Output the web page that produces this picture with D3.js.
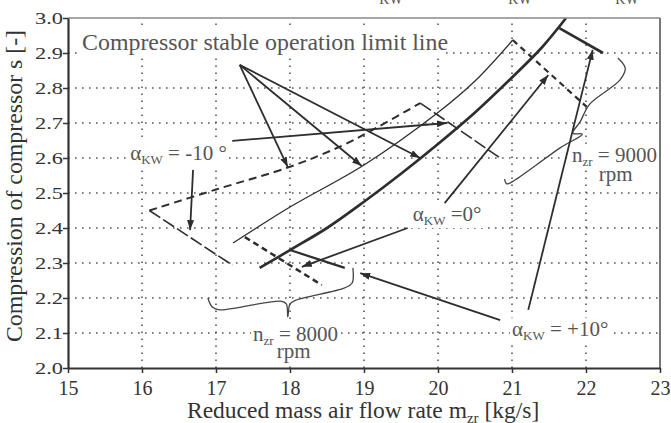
<!DOCTYPE html>
<html>
<head>
<meta charset="utf-8">
<script src="https://cdn.jsdelivr.net/npm/d3@7"></script>
<style>
  body { margin: 0; background: #fff; }
  svg { display: block; font-family: "Liberation Serif", "Times New Roman", Times, serif; }
</style>
</head>
<body>
<div id="root"></div>
<script>
// axis ticks
const xTicks = [15, 16, 17, 18, 19, 20, 21, 22, 23];
const yTicks = [2.0, 2.1, 2.2, 2.3, 2.4, 2.5, 2.6, 2.7, 2.8, 2.9, 3.0];

// compressor stable operation limit lines, [mass flow, compression]
const limitMinus10 = [[16.1, 2.45], [17.0, 2.51], [18.0, 2.575], [18.7, 2.635], [19.2, 2.69], [19.76, 2.757]];
const limitZero = [[17.23, 2.357], [18.0, 2.46], [19.0, 2.58], [20.0, 2.73], [20.5, 2.82], [21.01, 2.937]];
const limitPlus10 = [[17.59, 2.286], [18.0, 2.337], [18.5, 2.40], [19.0, 2.475], [19.5, 2.555], [20.0, 2.64],
  [20.5, 2.73], [21.0, 2.83], [21.4, 2.915], [21.73, 3.0]];

// constant speed lines
const n8000Minus10 = [[16.1, 2.45], [17.22, 2.294]];
const n8000Zero = [[17.39, 2.374], [18.43, 2.237]];
const n8000Plus10 = [[18.0, 2.337], [18.74, 2.286]];
const n9000Minus10 = [[19.76, 2.757], [20.84, 2.6]];
const n9000Zero = [[21.01, 2.937], [22.01, 2.746]];
const n9000Plus10 = [[21.64, 2.971], [22.23, 2.9]];

// annotation arrows, [from, to]
const arrowLines = [
  [[17.32, 2.866], [17.97, 2.574]],
  [[17.32, 2.866], [18.97, 2.577]],
  [[17.32, 2.866], [19.76, 2.600]],
  [[17.22, 2.649], [20.12, 2.700]],
  [[16.69, 2.566], [16.65, 2.394]],
  [[20.09, 2.471], [21.49, 2.837]],
  [[19.59, 2.400], [18.16, 2.289]],
  [[20.84, 2.137], [18.95, 2.271]],
  [[21.22, 2.166], [22.09, 2.909]],
];

// curly braces grouping the speed lines
const brace8000 = [[16.89, 2.200], [16.95, 2.174], [17.05, 2.166], [17.87, 2.191], [17.95, 2.183], [17.97, 2.146],
  [18.0, 2.183], [18.08, 2.194], [18.74, 2.229], [18.84, 2.243], [18.85, 2.286]];
const brace9000 = [[22.43, 2.886], [22.53, 2.857], [22.46, 2.823], [22.05, 2.754], [21.92, 2.703], [21.82, 2.671],
  [21.95, 2.668], [21.65, 2.629], [21.04, 2.537], [20.93, 2.526], [20.9, 2.540]];

const width = 671;
const height = 423;
const plot = { left: 68, right: 660, top: 18, bottom: 368 };
const serif = '"Liberation Serif", "Times New Roman", Times, serif';

const x = d3.scaleLinear().domain([15, 23]).range([plot.left, plot.right]);
const y = d3.scaleLinear().domain([2.0, 3.0]).range([plot.bottom, plot.top]);

const svg = d3.select('#root')
  .append('svg')
  .attr('width', width)
  .attr('height', height)
  .attr('font-family', serif);

const defs = svg.append('defs');
defs.append('marker')
  .attr('id', 'arrow')
  .attr('viewBox', '0 0 10 7')
  .attr('refX', 10)
  .attr('refY', 3.5)
  .attr('markerWidth', 10)
  .attr('markerHeight', 7)
  .attr('markerUnits', 'userSpaceOnUse')
  .attr('orient', 'auto')
  .append('path')
  .attr('d', 'M0,0 L10,3.5 L0,7 z')
  .attr('fill', '#2e2e2e');

const gridG = svg.append('g');
const bgG = svg.append('g');
const lineG = svg.append('g');
const textG = svg.append('g');
const axisG = svg.append('g');

// dotted grid
gridG.selectAll('.vgrid')
  .data(xTicks.slice(1, -1))
  .join('line')
  .attr('x1', d => x(d)).attr('x2', d => x(d))
  .attr('y1', y(2.0)).attr('y2', y(3.0));
gridG.selectAll('.hgrid')
  .data(yTicks.slice(1, -1))
  .join('line')
  .attr('x1', x(15)).attr('x2', x(23))
  .attr('y1', d => y(d)).attr('y2', d => y(d));
gridG.selectAll('line')
  .attr('stroke', '#555')
  .attr('stroke-width', 1.6)
  .attr('stroke-dasharray', '1.6 5.4');

// frame top and right
axisG.append('line')
  .attr('x1', plot.left).attr('x2', plot.right)
  .attr('y1', plot.top).attr('y2', plot.top)
  .attr('stroke', '#888').attr('stroke-width', 1.5);
axisG.append('line')
  .attr('x1', plot.right).attr('x2', plot.right)
  .attr('y1', plot.top).attr('y2', plot.bottom)
  .attr('stroke', '#777').attr('stroke-width', 2);

// axes
const yAxis = axisG.append('g')
  .attr('transform', `translate(${plot.left},0)`)
  .call(d3.axisLeft(y).tickValues(yTicks).tickSize(5).tickSizeOuter(0).tickPadding(0)
    .tickFormat(d3.format('.1f')));
const xAxis = axisG.append('g')
  .attr('transform', `translate(0,${plot.bottom})`)
  .call(d3.axisBottom(x).tickValues(xTicks).tickSize(5).tickSizeOuter(0).tickPadding(8)
    .tickFormat(d3.format('d')));
[yAxis, xAxis].forEach(a => {
  a.attr('font-family', serif);
  a.select('.domain').attr('stroke', '#333').attr('stroke-width', 2.2);
  a.selectAll('.tick line').attr('stroke', '#333').attr('stroke-width', 1.5);
  a.selectAll('.tick text').attr('fill', '#333');
});
yAxis.selectAll('.tick text').attr('font-size', 17)
  .attr('textLength', 28).attr('lengthAdjust', 'spacingAndGlyphs');
xAxis.selectAll('.tick text').attr('font-size', 20);

// axis titles (the subscript of m runs off the bottom edge, as in the source)
const xTitle = axisG.append('text')
  .attr('x', 187)
  .attr('y', 418)
  .attr('font-size', 23.5)
  .attr('fill', '#333');
xTitle.append('tspan').text('Reduced mass air flow rate m');
xTitle.append('tspan').attr('font-size', 15).attr('dy', 5).text('zr');
xTitle.append('tspan').attr('dy', -5).text(' [kg/s]');

axisG.append('text')
  .attr('transform', `translate(22,${(plot.top + plot.bottom) / 2 - 7}) rotate(-90)`)
  .attr('text-anchor', 'middle')
  .attr('font-size', 23.5)
  .attr('fill', '#333')
  .attr('textLength', 312)
  .attr('lengthAdjust', 'spacingAndGlyphs')
  .text('Compression of compressor s [-]');

// cut-off subscripts from the line of text above the figure
axisG.selectAll('.cut')
  .data([391, 520, 627])
  .join('text')
  .attr('x', d => d)
  .attr('y', 4)
  .attr('text-anchor', 'middle')
  .attr('font-size', 14)
  .attr('fill', '#555')
  .text('KW');

// lines
const straight = d3.line().x(d => x(d[0])).y(d => y(d[1]));
const smooth = d3.line().x(d => x(d[0])).y(d => y(d[1])).curve(d3.curveCatmullRom.alpha(0.5));

const series = [
  { data: limitMinus10, curve: smooth, w: 2, dash: '8 5' },
  { data: limitZero, curve: smooth, w: 1.3, dash: null },
  { data: limitPlus10, curve: smooth, w: 2.7, dash: null },
  { data: n8000Minus10, curve: straight, w: 1.6, dash: '13 3.5' },
  { data: n8000Zero, curve: straight, w: 2.5, dash: '6 4' },
  { data: n8000Plus10, curve: straight, w: 2.2, dash: null },
  { data: n9000Minus10, curve: straight, w: 1.6, dash: '13 3.5' },
  { data: n9000Zero, curve: straight, w: 2.2, dash: '6 4.5' },
  { data: n9000Plus10, curve: straight, w: 2.6, dash: null },
];
series.forEach(s => {
  lineG.append('path')
    .attr('d', s.curve(s.data))
    .attr('fill', 'none')
    .attr('stroke', '#2e2e2e')
    .attr('stroke-width', s.w)
    .attr('stroke-dasharray', s.dash);
});

[brace8000, brace9000].forEach(b => {
  lineG.append('path')
    .attr('d', smooth(b))
    .attr('fill', 'none')
    .attr('stroke', '#444')
    .attr('stroke-width', 1.3);
});

lineG.selectAll('.arrow')
  .data(arrowLines)
  .join('line')
  .attr('x1', d => x(d[0][0])).attr('y1', d => y(d[0][1]))
  .attr('x2', d => x(d[1][0])).attr('y2', d => y(d[1][1]))
  .attr('stroke', '#2e2e2e')
  .attr('stroke-width', 1.8)
  .attr('marker-end', 'url(#arrow)');

// annotation texts, each with a white box that hides the grid below it
function addLabel(parts, pos, size, anchor = 'start') {
  const t = textG.append('text')
    .attr('x', x(pos[0]))
    .attr('y', y(pos[1]))
    .attr('font-size', size)
    .attr('text-anchor', anchor)
    .attr('fill', '#555');
  let shift = 0;
  parts.forEach(p => {
    const dy = (p.sub ? 4 : 0) - shift;
    shift = p.sub ? 4 : 0;
    t.append('tspan')
      .attr('dy', dy)
      .attr('font-size', p.sub ? size * 0.62 : size)
      .text(p.t);
  });
  const box = t.node().getBBox();
  bgG.append('rect')
    .attr('x', box.x - 2)
    .attr('y', box.y + 1)
    .attr('width', box.width + 4)
    .attr('height', box.height - 1)
    .attr('fill', '#fff');
  return t;
}

addLabel([{ t: 'Compressor stable operation limit line' }], [15.19, 2.909], 23.5)
  .attr('textLength', 366).attr('lengthAdjust', 'spacingAndGlyphs');
addLabel([{ t: 'α' }, { t: 'KW', sub: true }, { t: ' = -10 °' }], [15.84, 2.594], 21);
addLabel([{ t: 'α' }, { t: 'KW', sub: true }, { t: ' =0°' }], [19.66, 2.42], 21);
addLabel([{ t: 'α' }, { t: 'KW', sub: true }, { t: ' = +10°' }], [21.0, 2.091], 21);
addLabel([{ t: 'n' }, { t: 'zr', sub: true }, { t: ' = 8000' }], [17.5, 2.077], 21);
addLabel([{ t: 'rpm' }], [18.05, 2.028], 21, 'middle');
addLabel([{ t: 'n' }, { t: 'zr', sub: true }, { t: ' = 9000' }], [21.81, 2.589], 21);
addLabel([{ t: 'rpm' }], [22.4, 2.535], 21, 'middle');
</script>
</body>
</html>
